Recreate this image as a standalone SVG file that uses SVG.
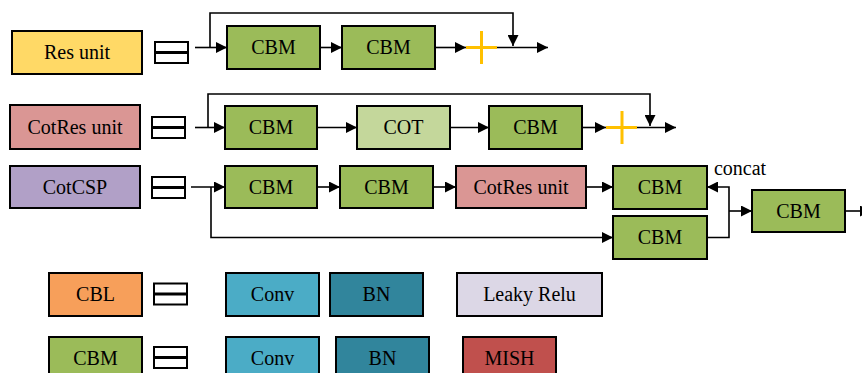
<svg xmlns="http://www.w3.org/2000/svg" width="862" height="373" viewBox="0 0 862 373">
<style>
.b{stroke:#000;stroke-width:2}
.t{font-family:"Liberation Serif","Times New Roman",serif;font-size:20px;fill:#000;text-anchor:middle}
.c{fill:none;stroke:#000;stroke-width:1.6}
.eq{fill:#fff;stroke:#000;stroke-width:2}
.plus{stroke:#ffc000;stroke-width:3;fill:none}
.cbm{fill:#9bbb59}
</style>
<defs>
<marker id="ah" viewBox="0 0 10 10" refX="10" refY="5" markerWidth="11" markerHeight="11" markerUnits="userSpaceOnUse" orient="auto">
<path d="M0,0 L10,5 L0,10 z" fill="#000"/>
</marker>
<g id="eqsign">
<rect x="0" y="0" width="33" height="10.5" class="eq"/>
<rect x="0" y="10.5" width="33" height="10.5" class="eq"/>
<line x1="0" y1="10.5" x2="33" y2="10.5" stroke="#000" stroke-width="3"/>
</g>
</defs>

<!-- Row 1: Res unit -->
<g id="res-unit"><rect x="12" y="31" width="130" height="43" fill="#ffd966" class="b"/><text x="77" y="59" class="t">Res unit</text></g>
<use href="#eqsign" x="155" y="42"/>
<g id="r1-cbm1"><rect x="227" y="26" width="93" height="43" class="b cbm"/><text x="273.5" y="54" class="t">CBM</text></g>
<g id="r1-cbm2"><rect x="342" y="26" width="93" height="43" class="b cbm"/><text x="388.5" y="54" class="t">CBM</text></g>
<g id="r1-add"><path d="M466,47.5 H497 M481.5,31 V64" class="plus"/></g>

<!-- Row 2: CotRes unit -->
<g id="cotres-unit"><rect x="10" y="105" width="130" height="44" fill="#da9694" class="b"/><text x="75" y="134" class="t">CotRes unit</text></g>
<use href="#eqsign" x="152" y="117"/>
<g id="r2-cbm1"><rect x="225" y="106" width="92" height="43" class="b cbm"/><text x="271" y="134" class="t">CBM</text></g>
<g id="r2-cot"><rect x="357" y="106" width="93" height="43" fill="#c4d79b" class="b"/><text x="403.5" y="134" class="t">COT</text></g>
<g id="r2-cbm2"><rect x="489" y="106" width="93" height="43" class="b cbm"/><text x="535.5" y="134" class="t">CBM</text></g>
<g id="r2-add"><path d="M606,127.5 H637 M622,111 V144" class="plus"/></g>

<!-- Row 3: CotCSP -->
<g id="cotcsp"><rect x="10" y="166" width="130" height="42" fill="#b1a0c7" class="b"/><text x="75" y="194" class="t">CotCSP</text></g>
<use href="#eqsign" x="152" y="177"/>
<g id="r3-cbm1"><rect x="225" y="166" width="92" height="42" class="b cbm"/><text x="271" y="194" class="t">CBM</text></g>
<g id="r3-cbm2"><rect x="340" y="166" width="93" height="42" class="b cbm"/><text x="386.5" y="194" class="t">CBM</text></g>
<g id="r3-cotres"><rect x="456" y="166" width="130" height="42" fill="#da9694" class="b"/><text x="521" y="194" class="t">CotRes unit</text></g>
<g id="r3-cbm3"><rect x="613" y="166" width="94" height="43" class="b cbm"/><text x="660" y="194" class="t">CBM</text></g>
<g id="r3-cbm4"><rect x="613" y="216" width="94" height="43" class="b cbm"/><text x="660" y="244" class="t">CBM</text></g>
<g id="r3-cbm5"><rect x="752" y="190" width="93" height="42" class="b cbm"/><text x="798.5" y="218" class="t">CBM</text></g>
<text x="740" y="175" class="t">concat</text>

<!-- Row 4: CBL -->
<g id="cbl"><rect x="49" y="273" width="93" height="43" fill="#f79f5a" class="b"/><text x="95.5" y="301" class="t">CBL</text></g>
<use href="#eqsign" x="154" y="283.5"/>
<g id="cbl-conv"><rect x="226" y="273" width="93" height="43" fill="#4bacc6" class="b"/><text x="272.5" y="301" class="t">Conv</text></g>
<g id="cbl-bn"><rect x="330" y="273" width="93" height="43" fill="#31859c" class="b"/><text x="376.5" y="301" class="t">BN</text></g>
<g id="cbl-leaky"><rect x="457" y="273" width="145" height="43" fill="#dcd7e6" class="b"/><text x="529.5" y="301" class="t">Leaky Relu</text></g>

<!-- Row 5: CBM -->
<g id="cbm-def"><rect x="49" y="337" width="93" height="43" class="b cbm"/><text x="95.5" y="365" class="t">CBM</text></g>
<use href="#eqsign" x="154" y="347"/>
<g id="cbm-conv"><rect x="226" y="337" width="93" height="43" fill="#4bacc6" class="b"/><text x="272.5" y="365" class="t">Conv</text></g>
<g id="cbm-bn"><rect x="336" y="337" width="93" height="43" fill="#31859c" class="b"/><text x="382.5" y="365" class="t">BN</text></g>
<g id="cbm-mish"><rect x="463" y="337" width="93" height="43" fill="#c0504d" class="b"/><text x="509.5" y="365" class="t">MISH</text></g>

<!-- Connectors -->
<g id="connectors">
<path d="M195,47.5 H227" class="c" marker-end="url(#ah)"/>
<path d="M210,47.5 V13 H513 V46" class="c" marker-end="url(#ah)"/>
<path d="M320,47.5 H342" class="c" marker-end="url(#ah)"/>
<path d="M435,47.5 H466" class="c" marker-end="url(#ah)"/>
<path d="M497,47.5 H548" class="c" marker-end="url(#ah)"/>

<path d="M195,127.5 H225" class="c" marker-end="url(#ah)"/>
<path d="M208,127.5 V94 H650 V126" class="c" marker-end="url(#ah)"/>
<path d="M317,127.5 H357" class="c" marker-end="url(#ah)"/>
<path d="M450,127.5 H489" class="c" marker-end="url(#ah)"/>
<path d="M582,127.5 H606" class="c" marker-end="url(#ah)"/>
<path d="M637,127.5 H676" class="c" marker-end="url(#ah)"/>

<path d="M191,187 H225" class="c" marker-end="url(#ah)"/>
<path d="M211,187 V237.5 H613" class="c" marker-end="url(#ah)"/>
<path d="M317,187 H340" class="c" marker-end="url(#ah)"/>
<path d="M433,187 H456" class="c" marker-end="url(#ah)"/>
<path d="M586,187 H613" class="c" marker-end="url(#ah)"/>
<path d="M707,237.5 H729 V187 H707" class="c" marker-end="url(#ah)"/>
<path d="M729,211 H752" class="c" marker-end="url(#ah)"/>
<path d="M845,211 H871" class="c" marker-end="url(#ah)"/>
</g>
</svg>
